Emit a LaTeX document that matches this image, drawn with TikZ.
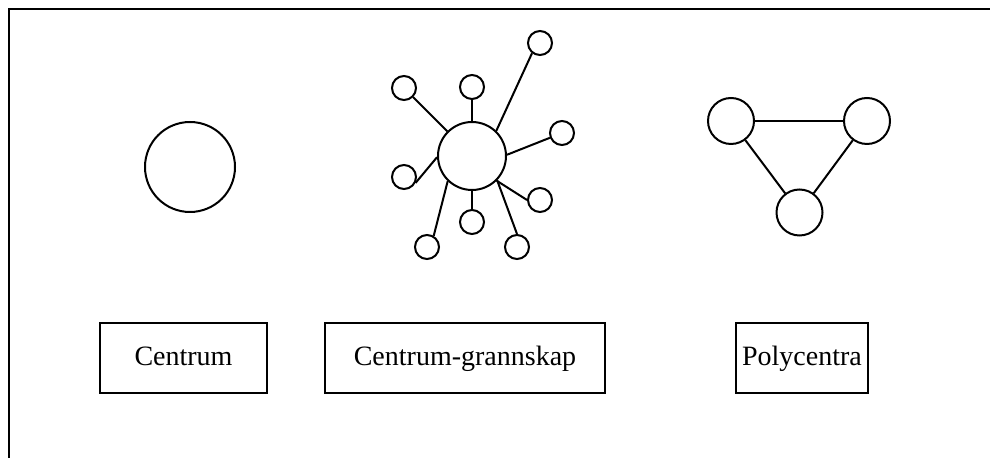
\documentclass[tikz,border=0pt]{standalone}
\usepackage{fontspec}
\setmainfont{Liberation Serif}
\begin{document}
\begin{tikzpicture}[x=0.5pt,y=-0.5pt,
  circ/.style={circle,draw,line width=1pt,inner sep=0pt},
  bigc/.style={circ,minimum size=45pt},
  hubc/.style={circ,minimum size=34pt},
  leaf/.style={circ,minimum size=12pt},
  polyc/.style={circ,minimum size=23pt},
  lbl/.style={draw,line width=0.8pt,minimum height=35pt,inner sep=0pt,
    text height=0.78em,text depth=0em,font=\fontsize{14}{17}\selectfont},
  link/.style={line width=1pt}]
\useasboundingbox (0,0) rectangle (990,458);
% frame
\coordinate (fa) at (992,9);
\coordinate (fc) at (9,9);
\coordinate (fb) at (9,460);
\draw[line width=1.2pt] (fa) -- (fc) -- (fb);
% Centrum
\node[bigc] (cen) at (190,167) {};
% Centrum-grannskap
\node[hubc] (hub) at (472,156) {};
\node[leaf] (s1) at (540,43) {};
\node[leaf] (s2) at (404,88) {};
\node[leaf] (s3) at (472,87) {};
\node[leaf] (s4) at (562,133) {};
\node[leaf] (s5) at (404,177) {};
\node[leaf] (s6) at (540,200) {};
\node[leaf] (s7) at (472,222) {};
\node[leaf] (s8) at (427,247) {};
\node[leaf] (s9) at (517,247) {};
\draw[link] (hub.46) -- (s1.232);
\draw[link] (hub) -- (s2);
\draw[link] (hub) -- (s3);
\draw[link] (hub.2) -- (s4);
\draw[link] (hub.182) -- (s5.333);
\draw[link] (hub.315) -- (s6.180);
\draw[link] (hub) -- (s7);
\draw[link] (hub.226) -- (s8.59);
\draw[link] (hub.316) -- (s9.90);
% Polycentra
\node[polyc] (p1) at (731,121) {};
\node[polyc] (p2) at (867,121) {};
\node[polyc] (p3) at (799.5,212.5) {};
\draw[link] (p1) -- (p2);
\draw[link] (p1) -- (p3);
\draw[link] (p2) -- (p3);
% labels
\node[lbl,minimum width=83.5pt] (l1) at (183.5,358) {Centrum};
\node[lbl,minimum width=140pt] (l2) at (465,358) {Centrum-grannskap};
\node[lbl,minimum width=66pt] (l3) at (802,358) {Polycentra};
\end{tikzpicture}
\end{document}
